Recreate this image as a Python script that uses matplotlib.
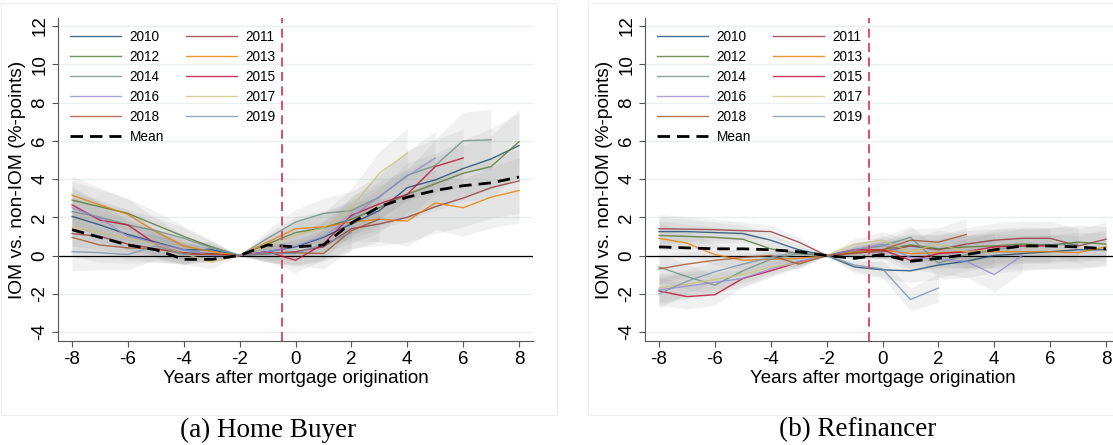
import numpy as np
import matplotlib.pyplot as plt
from matplotlib.patches import Rectangle

# event time (years after origination)
years = list(range(-8, 9))
cohorts = ["2010", "2011", "2012", "2013", "2014", "2015", "2016", "2017", "2018", "2019"]

# Stata s2color-like palette
colors = ["#1a476f", "#90353b", "#55752f", "#e37e00", "#6e8e84",
          "#c10534", "#938dd2", "#cac27e", "#a0522d", "#7b92a8"]

# (a) Home buyer: estimates by cohort, starting at -8
hb_2010 = [2.05, 1.6, 1.1, 0.7, 0.3, 0.3, 0, 0.2, 0.45, 0.95, 1.65, 2.35, 3.55, 3.95, 4.55, 5.05, 5.75]
hb_2011 = [1.15, 1.0, 0.6, 0.35, 0.15, 0.1, 0, 0.1, 0.2, 0.45, 1.4, 1.65, 2.0, 2.55, 3.0, 3.55, 3.9]
hb_2012 = [2.9, 2.55, 2.2, 1.6, 1.0, 0.45, 0, 0.6, 1.2, 1.45, 1.9, 2.5, 3.2, 3.75, 4.3, 4.65, 5.95]
hb_2013 = [3.15, 2.65, 2.15, 1.25, 0.5, 0.2, 0, 0.7, 1.4, 1.5, 1.75, 1.9, 1.8, 2.75, 2.5, 3.05, 3.4]
hb_2014 = [2.3, 2.0, 1.6, 1.3, 0.9, 0.4, 0, 0.9, 1.75, 2.2, 2.35, 3.05, 4.2, 4.7, 6.0, 6.05]
hb_2015 = [2.65, 1.85, 1.6, 0.6, 0.1, 0.05, 0, 0.2, -0.25, 0.6, 2.1, 2.7, 3.2, 4.65, 5.1]
hb_2016 = [2.5, 1.95, 1.0, 0.65, 0.3, 0.0, 0, 0.2, 0.5, 1.0, 2.0, 3.1, 4.15, 5.1]
hb_2017 = [1.5, 1.2, 0.9, 0.6, 0.1, -0.35, 0, 0.5, 1.05, 1.45, 2.5, 4.3, 5.35]
hb_2018 = [0.95, 0.55, 0.4, 0.35, 0.1, 0.05, 0, 0.1, 0.15, 0.1, 1.3, 1.9]
hb_2019 = [0.2, 0.15, 0.05, 0.5, 0.05, 0.4, 0, 0.1, 0.1, 0.6, 1.2]
hb_mean = [1.35, 0.95, 0.55, 0.3, -0.2, -0.2, 0, 0.55, 0.45, 0.55, 1.7, 2.55, 3.05, 3.4, 3.65, 3.8, 4.1]
hb_ci = [1.0, 0.9, 0.8, 0.7, 0.55, 0.35, 0.0, 0.45, 0.65, 0.8, 1.0, 1.15, 1.3, 1.4, 1.5, 1.6, 1.7]

# (b) Refinancer
rf_2010 = [1.25, 1.25, 1.2, 1.15, 0.8, 0.3, 0, -0.6, -0.75, -0.8, -0.5, -0.3, 0.0, 0.1, 0.2, 0.3, 0.3]
rf_2011 = [1.4, 1.38, 1.35, 1.3, 1.25, 0.7, 0, 0.15, 0.2, 0.5, 0.3, 0.6, 0.8, 0.9, 0.9, 0.5, 0.85]
rf_2012 = [1.05, 1.0, 0.95, 0.85, 0.35, 0.1, 0, 0.2, 0.3, 0.55, 0.35, 0.45, 0.5, 0.6, 0.55, 0.7, 0.6]
rf_2013 = [0.9, 0.65, 0.05, -0.25, -0.2, -0.15, 0, 0.2, 0.3, 0.1, 0.15, 0.2, 0.2, 0.2, 0.2, 0.15, 0.45]
rf_2014 = [-0.6, -1.1, -1.55, -0.8, -0.2, 0.1, 0, 0.3, 0.5, 0.95, -0.4, 0.05, 0.3, 0.5, 0.55, 0.6]
rf_2015 = [-1.85, -2.15, -2.05, -1.2, -0.8, -0.35, 0, 0.3, 0.3, -0.25, 0.1, 0.2, 0.45, 0.5, 0.5]
rf_2016 = [-1.8, -1.6, -1.4, -1.2, -0.7, -0.3, 0, 0.3, 0.6, -0.1, -0.2, -0.3, -1.0, 0.0]
rf_2017 = [-1.7, -1.5, -1.25, -1.0, -0.6, -0.4, 0, 0.6, 0.8, 0.2, 0.6, 0.2, 0.3]
rf_2018 = [-0.7, -0.45, -0.25, -0.1, 0.0, -0.45, 0, 0.1, 0.3, 0.8, 0.7, 1.1]
rf_2019 = [-2.0, -1.35, -0.85, -0.45, -0.1, 0.2, 0, -0.5, -0.7, -2.3, -1.7]
rf_mean = [0.45, 0.4, 0.35, 0.35, 0.3, 0.2, 0, -0.15, 0.05, -0.3, -0.15, 0.05, 0.3, 0.5, 0.5, 0.45, 0.35]
rf_ci = [0.75, 0.65, 0.55, 0.45, 0.35, 0.25, 0.0, 0.3, 0.45, 0.6, 0.75, 0.85, 0.9, 0.9, 0.9, 0.9, 0.9]

hb_series = [hb_2010, hb_2011, hb_2012, hb_2013, hb_2014, hb_2015, hb_2016, hb_2017, hb_2018, hb_2019]
rf_series = [rf_2010, rf_2011, rf_2012, rf_2013, rf_2014, rf_2015, rf_2016, rf_2017, rf_2018, rf_2019]

plt.rcParams['font.family'] = ['Liberation Sans', 'DejaVu Sans']
plt.rcParams['axes.unicode_minus'] = False

W, H = 1113, 445
fig = plt.figure(figsize=(W / 100, H / 100), dpi=100)

# faint graph-region borders
fig.add_artist(Rectangle((1 / W, 30 / H), 556 / W, 412 / H, transform=fig.transFigure,
                         fill=False, ec="#eeeeee", lw=0.8))
fig.add_artist(Rectangle((588 / W, 30 / H), 530 / W, 412 / H, transform=fig.transFigure,
                         fill=False, ec="#eeeeee", lw=0.8))


def draw_panel(ax, series, mean, ci):
    x = np.array(years)
    ci = np.array(ci)
    # confidence bands
    for s in series:
        n = len(s)
        v = np.array(s)
        ax.fill_between(x[:n], v - ci[:n], v + ci[:n], color="#9a9a9a", alpha=0.13, lw=0)
    handles = []
    for s, c, lab in zip(series, colors, cohorts):
        n = len(s)
        h, = ax.plot(x[:n], s, color=c, lw=1.0, alpha=0.8, label=lab)
        handles.append(h)
    hm, = ax.plot(x, mean, color="black", lw=2.0, ls=(0, (4.5, 2.5)), label="Mean")

    ax.axhline(0, color="black", lw=0.9, zorder=1)
    ax.axvline(-0.5, color="#dc3d66", lw=1.3, ls=(0, (5, 3)))

    ax.set_xlim(-8.5, 8.5)
    ax.set_ylim(-4.47, 12.42)
    ax.set_xticks(range(-8, 9, 2))
    ax.set_yticks(range(-4, 13, 2))
    ax.grid(axis="y", color="#e8f0f1", lw=1.0)
    ax.set_axisbelow(True)
    for sp in ["top", "right"]:
        ax.spines[sp].set_visible(False)
    for sp in ["left", "bottom"]:
        ax.spines[sp].set_color("#555555")
    ax.tick_params(colors="#555555", labelcolor="black", labelsize=13.5, length=4)
    ax.tick_params(axis="y", labelrotation=90, pad=3)
    for lbl in ax.get_yticklabels():
        lbl.set_va("center")
    ax.set_xlabel("Years after mortgage origination", fontsize=13.5, labelpad=1)
    ax.set_ylabel("IOM vs. non-IOM (%-points)", fontsize=13.8, labelpad=4)

    # row-wise legend order: left column even cohorts + Mean, right column odd
    order = handles[0::2] + [hm] + handles[1::2]
    ax.legend(handles=order, loc="upper left", ncol=2, frameon=False, fontsize=9.8,
              handlelength=3.8, handletextpad=0.6, columnspacing=1.6,
              labelspacing=0.45, borderaxespad=0.45, bbox_to_anchor=(0.0, 1.0))


ax1 = fig.add_axes([58 / W, 104 / H, 475 / W, 323 / H])
draw_panel(ax1, hb_series, hb_mean, hb_ci)
ax2 = fig.add_axes([645 / W, 104 / H, 475 / W, 323 / H])
draw_panel(ax2, rf_series, rf_mean, rf_ci)

fig.text(268 / W, 1 - 430 / H, "(a) Home Buyer", ha="center", va="center",
         family="Liberation Serif", fontsize=19.5)
fig.text(858 / W, 1 - 430 / H, "(b) Refinancer", ha="center", va="center",
         family="Liberation Serif", fontsize=19.5)

fig.savefig("out.png", dpi=100)
